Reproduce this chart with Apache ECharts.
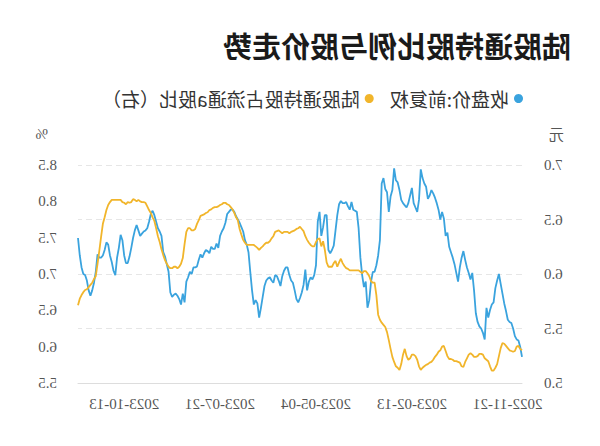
<!DOCTYPE html>
<html>
<head>
<meta charset="utf-8">
<script src="https://cdn.jsdelivr.net/npm/echarts@6/dist/echarts.min.js"></script>
<style>
html,body{margin:0;padding:0;background:#fff;}
#chart{width:600px;height:446px;transform:scaleX(-1);}
</style>
</head>
<body>
<div id="chart"></div>
<script>
// Trading-day categories (weekdays minus exchange holidays)
const startDate = '2022-11-09';
const endDate = '2023-11-20';
const holidays = ['2023-01-02','2023-01-23','2023-01-24','2023-01-25','2023-01-26','2023-01-27',
  '2023-04-05','2023-05-01','2023-05-02','2023-05-03','2023-06-22','2023-06-23',
  '2023-09-29','2023-10-02','2023-10-03','2023-10-04','2023-10-05','2023-10-06'];
const tickLabels = ['2022-11-21','2023-02-13','2023-05-04','2023-07-21','2023-10-13'];

const priceName = '收盘价:前复权';
const ratioName = '陆股通持股占流通a股比（右）';

const price = [5.24,5.33,5.39,5.40,5.43,5.50,5.55,5.56,5.58,5.66,
5.73,5.82,5.91,6.00,5.94,5.87,5.74,5.72,5.67,5.60,
5.69,5.40,5.46,5.50,5.52,5.56,5.64,5.85,6.01,5.95,
6.01,6.06,6.13,6.21,6.15,6.06,5.93,6.01,6.09,6.15,
6.20,6.25,6.38,6.35,6.51,6.57,6.50,6.59,6.65,6.70,
6.74,6.77,6.72,6.69,6.80,6.83,6.88,6.96,6.68,6.57,
6.61,6.65,6.79,6.72,6.65,6.61,6.63,6.65,6.68,6.77,
6.84,6.86,6.97,6.77,6.71,6.57,6.75,6.78,6.88,6.83,
6.31,6.17,6.08,6.02,6.02,5.93,5.76,5.69,5.93,5.88,
5.99,6.15,6.42,6.57,6.58,6.59,6.66,6.59,6.62,6.66,
6.65,6.65,6.67,6.64,6.54,6.40,6.26,6.22,6.19,6.22,
6.54,6.54,6.43,6.35,6.57,6.48,6.08,5.99,5.95,5.97,
5.93,5.85,6.04,5.90,5.83,5.78,5.74,5.77,5.85,5.92,
5.94,5.99,6.06,6.06,6.03,5.98,5.89,5.94,5.98,5.99,
5.92,5.94,5.97,5.96,5.94,5.89,5.79,5.69,5.60,5.73,
5.76,5.72,5.85,6.02,6.20,6.27,6.31,6.39,6.43,6.47,
6.50,6.53,6.57,6.59,6.59,6.57,6.55,6.47,6.42,6.39,
6.35,6.24,6.28,6.23,6.23,6.25,6.19,6.21,6.22,6.19,
6.15,6.18,6.13,6.07,6.06,6.06,6.00,6.02,5.97,5.93,
5.74,5.82,5.72,5.77,5.80,5.82,5.81,5.79,5.83,6.02,
6.09,6.16,6.20,6.35,6.39,6.42,6.48,6.54,6.58,6.55,
6.48,6.42,6.40,6.39,6.37,6.35,6.40,6.45,6.40,6.33,
6.24,6.16,6.10,6.10,6.17,6.31,6.36,6.24,6.15,5.99,
6.03,6.11,6.17,6.27,6.29,6.22,6.17,6.15,6.15,6.18,
6.02,5.92,5.85,5.80,5.85,5.94,5.99,6.00,6.06,6.17,
6.33];

const ratio = [5.95,5.97,6.01,6.00,5.94,5.93,5.94,5.95,5.98,6.01,
6.04,6.05,5.98,5.87,5.76,5.71,5.67,5.67,5.73,5.80,
5.82,5.84,5.89,5.90,5.90,5.87,5.86,5.86,5.89,5.91,
5.89,5.84,5.79,5.72,5.73,5.78,5.79,5.80,5.80,5.82,
5.83,5.83,5.87,5.94,6.01,6.00,5.95,5.93,5.89,5.86,
5.82,5.79,5.78,5.76,5.75,5.73,5.71,5.68,5.73,5.82,
5.87,5.89,5.89,5.84,5.82,5.87,5.97,5.89,5.76,5.68,
5.71,5.73,5.79,5.86,5.97,6.09,6.20,6.27,6.30,6.33,
6.37,6.44,6.71,6.88,6.88,6.90,6.97,7.01,7.04,7.04,
7.01,7.03,7.05,7.05,7.05,7.05,7.05,7.05,7.07,7.08,
7.11,7.15,7.21,7.16,7.10,7.18,7.15,7.10,7.10,7.10,
7.16,7.33,7.45,7.38,7.49,7.48,7.44,7.38,7.38,7.40,
7.43,7.47,7.52,7.59,7.62,7.65,7.63,7.62,7.60,7.59,
7.58,7.56,7.58,7.58,7.58,7.56,7.58,7.60,7.59,7.58,
7.52,7.49,7.45,7.43,7.43,7.41,7.38,7.36,7.33,7.36,
7.38,7.40,7.40,7.40,7.40,7.40,7.43,7.47,7.54,7.62,
7.74,7.78,7.84,7.89,7.92,7.95,7.96,7.98,7.98,7.96,
7.95,7.93,7.92,7.92,7.91,7.89,7.88,7.85,7.84,7.82,
7.81,7.80,7.74,7.69,7.62,7.60,7.60,7.63,7.63,7.58,
7.41,7.22,7.14,7.10,7.08,7.10,7.10,7.08,7.08,7.10,
7.14,7.19,7.26,7.34,7.44,7.52,7.63,7.73,7.78,7.84,
7.88,7.93,7.98,7.99,7.99,8.00,8.02,8.00,8.02,8.03,
7.99,7.98,7.99,7.96,7.98,7.99,8.02,8.02,8.02,8.02,
8.02,8.02,7.99,7.95,7.88,7.78,7.69,7.51,7.32,7.14,
6.97,6.93,6.88,6.85,6.82,6.79,6.78,6.75,6.71,6.66,
6.57];

function pad(n){return n<10?'0'+n:''+n;}
const dates = [];
(function(){
  const d = new Date(startDate + 'T00:00:00Z');
  const end = new Date(endDate + 'T00:00:00Z');
  while (d <= end) {
    const wd = d.getUTCDay();
    const s = d.getUTCFullYear() + '-' + pad(d.getUTCMonth()+1) + '-' + pad(d.getUTCDate());
    if (wd !== 0 && wd !== 6 && holidays.indexOf(s) < 0) dates.push(s);
    d.setUTCDate(d.getUTCDate() + 1);
  }
})();

const chart = echarts.init(document.getElementById('chart'), null, {renderer: 'svg'});
const axisFont = 'Liberation Serif, serif';
chart.setOption({
  animation: false,
  backgroundColor: '#fff',
  title: {
    text: '陆股通持股比例与股价走势',
    left: 24, top: 25,
    textStyle: {fontSize: 29, fontWeight: 'bold', color: '#1a1a1a', fontFamily: 'Noto Sans CJK SC'}
  },
  legend: {
    left: 72, top: 84,
    icon: 'circle', itemWidth: 9, itemHeight: 9, itemGap: 16,
    textStyle: {fontSize: 19, color: '#333', fontFamily: 'Noto Sans CJK SC'},
    data: [priceName, ratioName]
  },
  grid: {left: 78, right: 78, top: 165, bottom: 63},
  xAxis: {
    type: 'category', data: dates, boundaryGap: false,
    axisLine: {lineStyle: {color: '#ddd'}},
    axisTick: {show: false},
    axisLabel: {
      interval: function(idx, val){ return tickLabels.indexOf(val) >= 0; },
      color: '#555', fontSize: 15, fontFamily: axisFont, margin: 13
    }
  },
  yAxis: [{
    type: 'value', min: 5.0, max: 7.0, interval: 0.5, position: 'left',
    name: '元', nameLocation: 'end', nameGap: 24,
    nameTextStyle: {color: '#555', fontSize: 15, fontFamily: 'Noto Sans CJK SC', align: 'right', padding: [0, 27, 0, 0]},
    axisLine: {show: false}, axisTick: {show: false},
    axisLabel: {color: '#555', fontSize: 15, fontFamily: axisFont, margin: 22, formatter: v => v.toFixed(1)},
    splitLine: {lineStyle: {color: '#e6e6e6', type: [6, 4]}}
  }, {
    type: 'value', min: 5.5, max: 8.5, interval: 0.5, position: 'right',
    name: '%', nameLocation: 'end', nameGap: 24,
    nameTextStyle: {color: '#555', fontSize: 15, fontFamily: axisFont, align: 'left', padding: [0, 0, 0, 30]},
    axisLine: {show: false}, axisTick: {show: false},
    axisLabel: {color: '#555', fontSize: 15, fontFamily: axisFont, margin: 21, formatter: v => v.toFixed(1)},
    splitLine: {show: false}
  }],
  series: [{
    name: priceName, type: 'line', yAxisIndex: 0, data: price,
    showSymbol: false, symbol: 'none',
    itemStyle: {color: '#3AA3DE'},
    lineStyle: {color: '#3AA3DE', width: 1.8}
  }, {
    name: ratioName, type: 'line', yAxisIndex: 1, data: ratio,
    showSymbol: false, symbol: 'none',
    itemStyle: {color: '#F1B52B'},
    lineStyle: {color: '#F1B52B', width: 1.8}
  }]
});
</script>
</body>
</html>
